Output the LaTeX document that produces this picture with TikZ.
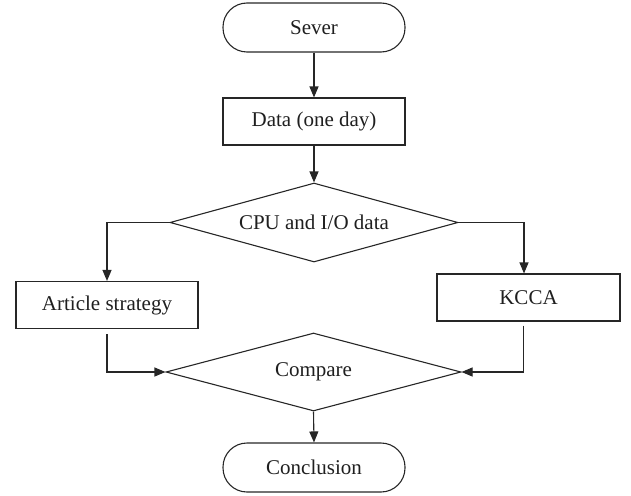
\documentclass[tikz,border=0pt]{standalone}
\usepackage{fontspec}
\setmainfont{Liberation Serif}
\usetikzlibrary{shapes.geometric,arrows.meta}
\begin{document}
\begin{tikzpicture}[x=1pt,y=-1pt,
  every node/.style={font=\fontsize{21}{25}\selectfont, text=black!88},
  base/.style={draw=black!85, line width=1.1pt, inner sep=0pt},
  stadium/.style={base, rectangle, rounded corners=24pt, minimum width=182pt, minimum height=49pt},
  procbox/.style={base, rectangle, minimum width=182pt, minimum height=47pt},
  decision/.style={base, diamond, shape aspect=3.7, minimum width=#1, minimum height=79pt},
  flow/.style={draw=black!85, line width=1.1pt, -{Triangle[length=11pt,width=9pt]}}
]
\useasboundingbox (0,0) rectangle (631,495);
\node[stadium] (sever) at (314,27.5) {Sever};
\node[procbox] (data) at (314,121.5) {Data (one day)};
\node[decision=288pt] (cpu) at (314,222.5) {CPU and I/O data};
\node[procbox] (article) at (107,305) {Article strategy};
\node[procbox, minimum width=183pt] (kcca) at (528.5,297.5) {KCCA};
\node[decision=295pt, minimum height=78pt] (compare) at (313.5,372) {Compare};
\node[stadium] (concl) at (314,467.5) {Conclusion};

\draw[flow] (sever) -- (data);
\draw[flow] (data) -- (cpu);
\draw[flow] (cpu.west) -| (article.north);
\draw[flow] (cpu.east) -| ([xshift=-4.5pt]kcca.north);
\draw[flow] ([yshift=-5pt]article.south) |- (compare.west);
\draw[flow] ([xshift=-5pt,yshift=-4pt]kcca.south) |- (compare.east);
\draw[flow] (compare.south) -- (concl.north);
\end{tikzpicture}
\end{document}
